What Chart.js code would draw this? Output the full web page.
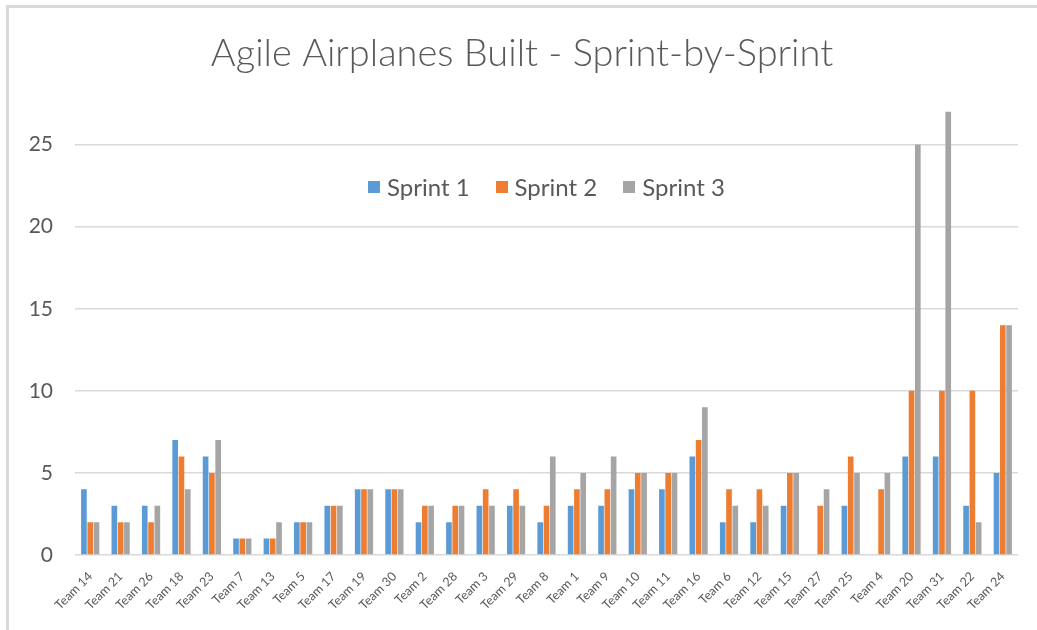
<!DOCTYPE html>
<html lang="en">
<head>
    <meta charset="UTF-8">
    <title>Agile Airplanes Built - Sprint-by-Sprint</title>
    <script src="https://cdn.jsdelivr.net/npm/chart.js"></script>
    <style>
        body {
            margin: 0;
            background-color: #ffffff;
        }
        #marco {
            position: absolute;
            left: 6px;
            top: 5px;
            width: 1031px;
            height: 625px;
            border-top: 3px solid #d9d9d9;
            border-left: 3px solid #d9d9d9;
        }
        #caja {
            position: absolute;
            left: 0;
            top: 0;
            width: 1037px;
            height: 630px;
        }
        #leyenda {
            position: absolute;
            top: 172px;
            display: flex;
            gap: 26px;
            font-family: Lato, "Open Sans", sans-serif;
            font-size: 24px;
            color: #595959;
            line-height: 30px;
            white-space: nowrap;
        }
        #leyenda span.item {
            display: flex;
            align-items: center;
        }
        #leyenda span.cuadro {
            display: inline-block;
            width: 12px;
            height: 12px;
            margin-right: 7px;
        }
    </style>
</head>
<body>
    <div id="marco"></div>
    <div id="caja"><canvas id="grafico"></canvas></div>
    <div id="leyenda"></div>

    <script>
        const equipos = ["Team 14", "Team 21", "Team 26", "Team 18", "Team 23", "Team 7", "Team 13", "Team 5",
            "Team 17", "Team 19", "Team 30", "Team 2", "Team 28", "Team 3", "Team 29", "Team 8", "Team 1",
            "Team 9", "Team 10", "Team 11", "Team 16", "Team 6", "Team 12", "Team 15", "Team 27", "Team 25",
            "Team 4", "Team 20", "Team 31", "Team 22", "Team 24"];
        const sprint1 = [4, 3, 3, 7, 6, 1, 1, 2, 3, 4, 4, 2, 2, 3, 3, 2, 3, 3, 4, 4, 6, 2, 2, 3, null, 3, null, 6, 6, 3, 5];
        const sprint2 = [2, 2, 2, 6, 5, 1, 1, 2, 3, 4, 4, 3, 3, 4, 4, 3, 4, 4, 5, 5, 7, 4, 4, 5, 3, 6, 4, 10, 10, 10, 14];
        const sprint3 = [2, 2, 3, 4, 7, 1, 2, 2, 3, 4, 4, 3, 3, 3, 3, 6, 5, 6, 5, 5, 9, 3, 3, 5, 4, 5, 5, 25, 27, 2, 14];
        const ticksY = [0, 5, 10, 15, 20, 25];

        const fuente = "Lato, 'Open Sans', sans-serif";
        const gris = "#595959";

        let ctx = document.getElementById("grafico").getContext("2d");
        window.miGrafico = new Chart(ctx, {
            type: "bar",
            data: {
                labels: equipos,
                datasets: [
                    { label: "Sprint 1", data: sprint1, backgroundColor: "#5B9BD5" },
                    { label: "Sprint 2", data: sprint2, backgroundColor: "#ED7D31" },
                    { label: "Sprint 3", data: sprint3, backgroundColor: "#A5A5A5" }
                ]
            },
            options: {
                responsive: true,
                maintainAspectRatio: false,
                animation: false,
                datasets: {
                    bar: { categoryPercentage: 0.62, barPercentage: 0.9 }
                },
                layout: {
                    padding: { left: 26, right: 19, top: 31, bottom: 0 }
                },
                plugins: {
                    title: {
                        display: true,
                        text: "Agile Airplanes Built - Sprint-by-Sprint",
                        color: gris,
                        font: { family: fuente, size: 38, weight: "300" },
                        padding: { top: 0, bottom: 22 }
                    },
                    legend: { display: false },
                    tooltip: { enabled: false }
                },
                scales: {
                    x: {
                        grid: { display: false },
                        border: { display: false },
                        ticks: {
                            color: gris,
                            font: { family: fuente, size: 12.5 },
                            minRotation: 45,
                            maxRotation: 45,
                            autoSkip: false,
                            padding: 6
                        },
                        afterFit: (eje) => { eje.height = 75; }
                    },
                    y: {
                        min: 0,
                        max: 27.8,
                        border: { display: false },
                        grid: { color: "#d9d9d9", lineWidth: 1.5, drawTicks: false },
                        ticks: {
                            color: gris,
                            font: { family: fuente, size: 21 },
                            padding: 22
                        },
                        afterBuildTicks: (eje) => { eje.ticks = ticksY.map(v => ({ value: v })); },
                        afterFit: (eje) => { eje.width = 49; }
                    }
                }
            }
        });

        // leyenda en HTML, centrada dentro del área del gráfico
        let leyenda = document.getElementById("leyenda");
        window.miGrafico.data.datasets.forEach(ds => {
            let item = document.createElement("span");
            item.className = "item";
            let cuadro = document.createElement("span");
            cuadro.className = "cuadro";
            cuadro.style.backgroundColor = ds.backgroundColor;
            item.appendChild(cuadro);
            item.appendChild(document.createTextNode(ds.label));
            leyenda.appendChild(item);
        });
        let area = window.miGrafico.chartArea;
        let centro = (area.left + area.right) / 2;
        leyenda.style.left = (centro - leyenda.offsetWidth / 2) + "px";
    </script>
</body>
</html>
